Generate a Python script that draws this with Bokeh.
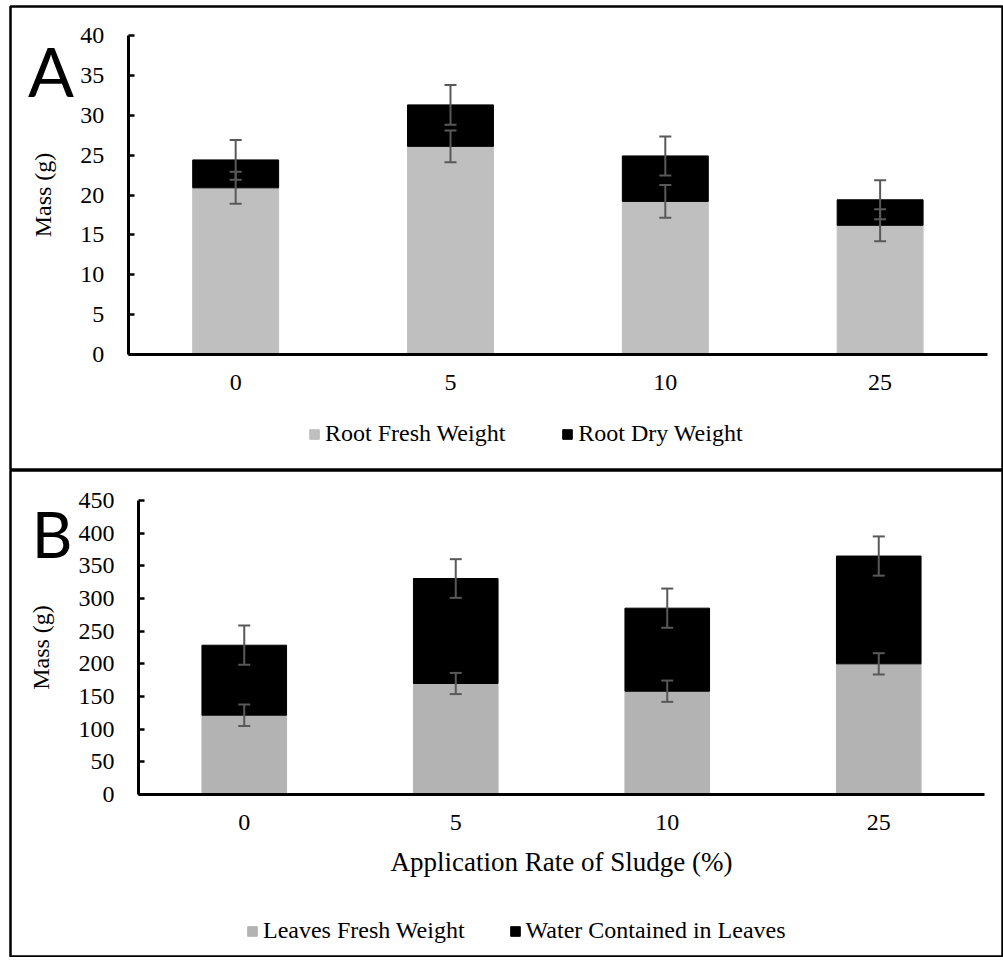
from bokeh.plotting import figure
from bokeh.models import (ColumnDataSource, Whisker, TeeHead, Legend, LegendItem,
                          Label, Range1d, FixedTicker)
from bokeh.layouts import column
from bokeh.embed import file_html
from bokeh.resources import INLINE

# ---------------- data ----------------
categories = ["0", "5", "10", "25"]

# Panel A (roots)
root_fresh = [20.9, 26.1, 19.2, 16.2]
root_dry = [3.5, 5.2, 5.7, 3.2]          # stacked on top of fresh weight
root_fresh_err = [2.0, 2.0, 2.05, 2.0]
root_dry_err = [2.5, 2.5, 2.45, 2.45]
yticks_a = [0, 5, 10, 15, 20, 25, 30, 35, 40]

# Panel B (leaves)
leaves_fresh = [121.4, 169.9, 158.1, 200.0]
leaves_water = [107.1, 160.7, 127.1, 165.0]   # stacked on top of fresh weight
leaves_fresh_err = [16.4, 16.2, 16.3, 16.3]
leaves_water_err = [30.0, 29.6, 30.0, 30.0]
yticks_b = [0, 50, 100, 150, 200, 250, 300, 350, 400, 450]

SERIF = "Liberation Serif"
ERR_COLOR = "#595959"

xpos = [i + 0.5 for i in range(len(categories))]
ncat = len(categories)


def make_panel(fresh, top_part, fresh_err, top_err, gray, yticks, x_label,
               width, height, frame_left, frame_top, frame_bottom,
               x0_px, x4_px, y0_px, ymax_px):
    """Frame covers the whole panel; axes are pinned at data zero."""
    ymax = yticks[-1]
    fb = height - frame_bottom                      # frame bottom (canvas px)
    xs = (x4_px - x0_px) / ncat                     # px per category
    ys = (y0_px - ymax_px) / ymax                   # px per unit
    x_range = Range1d(-(x0_px - frame_left) / xs, ncat + (width - x4_px) / xs)
    y_range = Range1d(-(fb - y0_px) / ys, ymax + (ymax_px - frame_top) / ys)
    p = figure(x_range=x_range, y_range=y_range, width=width, height=height,
               output_backend="svg", toolbar_location=None,
               min_border_left=frame_left, min_border_right=0,
               min_border_top=frame_top, min_border_bottom=frame_bottom)
    p.outline_line_color = "black"
    p.outline_line_width = 2.5
    p.xgrid.visible = False
    p.ygrid.visible = False

    totals = [a + b for a, b in zip(fresh, top_part)]
    src = ColumnDataSource(dict(
        x=xpos, fresh=fresh, total=totals,
        f_up=[v + e for v, e in zip(fresh, fresh_err)],
        f_lo=[v - e for v, e in zip(fresh, fresh_err)],
        t_up=[v + e for v, e in zip(totals, top_err)],
        t_lo=[v - e for v, e in zip(totals, top_err)],
    ))
    r1 = p.vbar(x="x", top="fresh", bottom=0, width=0.4, source=src,
                fill_color=gray, line_color=gray)
    r2 = p.vbar(x="x", top="total", bottom="fresh", width=0.4, source=src,
                fill_color="black", line_color="black")
    for up, lo in (("f_up", "f_lo"), ("t_up", "t_lo")):
        w = Whisker(base="x", upper=up, lower=lo, source=src, dimension="height",
                    line_color=ERR_COLOR, line_width=2, level="annotation",
                    upper_head=TeeHead(size=12, line_color=ERR_COLOR, line_width=2),
                    lower_head=TeeHead(size=12, line_color=ERR_COLOR, line_width=2))
        p.add_layout(w)

    # y axis
    ya = p.yaxis[0]
    ya.fixed_location = 0
    ya.bounds = (0, ymax)
    ya.ticker = FixedTicker(ticks=yticks)
    ya.minor_tick_line_color = None
    ya.major_tick_in = 6
    ya.major_tick_out = 0
    ya.major_tick_line_width = 2.5
    ya.major_tick_line_color = "black"
    ya.axis_line_width = 3
    ya.axis_line_color = "black"
    ya.major_label_text_font = SERIF
    ya.major_label_text_font_size = "24px"
    ya.major_label_text_color = "black"
    ya.major_label_standoff = 24
    ya.axis_label = "Mass (g)"
    ya.axis_label_text_font = SERIF
    ya.axis_label_text_font_size = "24px"
    ya.axis_label_text_font_style = "normal"
    ya.axis_label_text_color = "black"
    ya.axis_label_standoff = 22

    # x axis
    xa = p.xaxis[0]
    xa.fixed_location = 0
    xa.bounds = (0, ncat)
    xa.ticker = FixedTicker(ticks=xpos)
    xa.major_label_overrides = {x: c for x, c in zip(xpos, categories)}
    xa.major_tick_in = 0
    xa.major_tick_out = 0
    xa.minor_tick_line_color = None
    xa.axis_line_width = 3
    xa.axis_line_color = "black"
    xa.major_label_text_font = SERIF
    xa.major_label_text_font_size = "24px"
    xa.major_label_text_color = "black"
    xa.major_label_standoff = 20
    if x_label:
        xa.axis_label = x_label
        xa.axis_label_text_font = SERIF
        xa.axis_label_text_font_size = "27px"
        xa.axis_label_text_font_style = "normal"
        xa.axis_label_text_color = "black"
        xa.axis_label_standoff = 14
    return p, r1, r2


# ---------------- Panel A ----------------
pa, ra1, ra2 = make_panel(root_fresh, root_dry, root_fresh_err, root_dry_err,
                          "#BFBFBF", yticks_a, None,
                          width=1003, height=470, frame_left=8, frame_top=6,
                          frame_bottom=0, x0_px=126, x4_px=987,
                          y0_px=354, ymax_px=35)
leg_a = Legend(items=[LegendItem(label="Root Fresh Weight", renderers=[ra1]),
                      LegendItem(label="Root Dry Weight", renderers=[ra2])],
               location=(298, 23), orientation="horizontal",
               label_text_font=SERIF, label_text_font_size="24px",
               label_text_color="black", glyph_width=12, glyph_height=12,
               label_standoff=5, spacing=56, padding=0, margin=0,
               border_line_color=None, background_fill_alpha=0)
pa.add_layout(leg_a)
pa.add_layout(Label(x=-0.36, y=35.6, text="A", text_font="Lato",
                    text_font_size="68px", text_align="center",
                    text_baseline="alphabetic", text_color="black"))

# ---------------- Panel B ----------------
pb, rb1, rb2 = make_panel(leaves_fresh, leaves_water, leaves_fresh_err,
                          leaves_water_err, "#B3B3B3", yticks_b,
                          "Application Rate of Sludge (%)",
                          width=1003, height=487, frame_left=10, frame_top=0,
                          frame_bottom=1, x0_px=138, x4_px=984,
                          y0_px=324, ymax_px=30)
leg_b = Legend(items=[LegendItem(label="Leaves Fresh Weight", renderers=[rb1]),
                      LegendItem(label="Water Contained in Leaves", renderers=[rb2])],
               location=(236, 12), orientation="horizontal",
               label_text_font=SERIF, label_text_font_size="24px",
               label_text_color="black", glyph_width=12, glyph_height=12,
               label_standoff=5, spacing=44, padding=0, margin=0,
               border_line_color=None, background_fill_alpha=0)
pb.add_layout(leg_b)
pb.add_layout(Label(x=-0.409, y=399.5, text="B", text_font="Lato",
                    text_font_size="63px", text_align="center",
                    text_baseline="alphabetic", text_color="black"))

layout = column(pa, pb, spacing=0)
open("out.html", "w").write(file_html(layout, INLINE))
